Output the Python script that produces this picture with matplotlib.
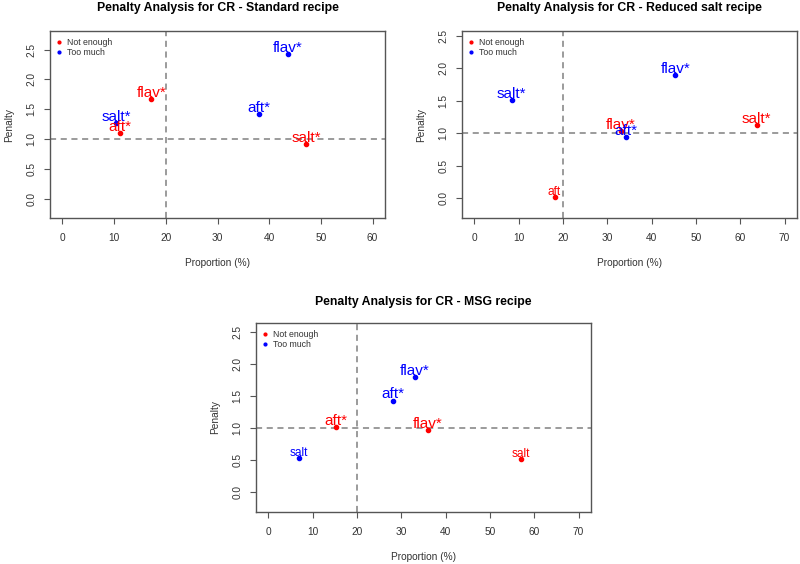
import matplotlib
matplotlib.use("Agg")
import matplotlib.pyplot as plt

plt.rcParams['font.family'] = ['Liberation Sans', 'DejaVu Sans']

# ---------------- data ----------------
std_labels = ["salt*", "aft*", "flav*", "salt*", "aft*", "flav*"]
std_x = [47.2, 11.1, 17.2, 10.4, 38.0, 43.6]
std_y = [0.92, 1.10, 1.67, 1.27, 1.42, 2.42]
std_side = ["Not enough", "Not enough", "Not enough", "Too much", "Too much", "Too much"]

red_labels = ["salt*", "aft", "flav*", "salt*", "aft*", "flav*"]
red_x = [63.7, 18.1, 33.0, 8.4, 34.2, 45.3]
red_y = [1.12, 0.02, 1.03, 1.51, 0.94, 1.89]
red_side = ["Not enough", "Not enough", "Not enough", "Too much", "Too much", "Too much"]

msg_labels = ["salt", "aft*", "flav*", "salt", "aft*", "flav*"]
msg_x = [56.9, 15.2, 36.0, 6.8, 28.2, 33.1]
msg_y = [0.51, 1.01, 0.97, 0.53, 1.43, 1.80]
msg_side = ["Not enough", "Not enough", "Not enough", "Too much", "Too much", "Too much"]

titles = ["Penalty Analysis for CR - Standard recipe",
          "Penalty Analysis for CR - Reduced salt recipe",
          "Penalty Analysis for CR - MSG recipe"]
legend_labels = ["Not enough", "Too much"]
side_colors = {"Not enough": "red", "Too much": "blue"}

W, H = 800, 564
fig = plt.figure(figsize=(W / 100, H / 100), dpi=100)


def px_axes(x0, y0, x1, y1):
    return fig.add_axes([x0 / W, 1 - y1 / H, (x1 - x0) / W, (y1 - y0) / H])


text_col = "#333333"


def panel(ax, title, labels, xs, ys, sides, xmax, xlim, ylim, tpad):
    for s in legend_labels:
        for lab, x, y, sd in zip(labels, xs, ys, sides):
            if sd != s:
                continue
            c = side_colors[sd]
            ax.plot([x], [y], 'o', color=c, markersize=3, zorder=3)
            big = lab.endswith("*")
            ax.annotate(lab, (x, y), xytext=(0, 1.5), textcoords='offset points',
                        ha='center', va='baseline', color=c,
                        fontsize=11 if big else 8.6, zorder=4)
    ax.axvline(20, color="#808080", ls=(0, (4, 3)), lw=1.1, zorder=1)
    ax.axhline(1, color="#808080", ls=(0, (4, 3)), lw=1.1, zorder=1)
    ax.set_xlim(*xlim)
    ax.set_ylim(*ylim)
    ax.set_xticks(range(0, xmax + 1, 10))
    ax.set_yticks([0, 0.5, 1.0, 1.5, 2.0, 2.5])
    ax.set_yticklabels(["0.0", "0.5", "1.0", "1.5", "2.0", "2.5"], rotation=90, va='center')
    ax.tick_params(colors="#555555", labelcolor=text_col, labelsize=7.3, length=4.3, width=0.8)
    ax.tick_params(axis='x', pad=6.5)
    ax.tick_params(axis='y', pad=5.5)
    for sp in ax.spines.values():
        sp.set_color("#555555")
        sp.set_linewidth(1.0)
    ax.set_xlabel("Proportion (%)", fontsize=7.3, color=text_col, labelpad=11)
    ax.set_ylabel("Penalty", fontsize=7.3, color=text_col, labelpad=9)
    ax.set_title(title, fontsize=8.8, fontweight='bold', pad=tpad)
    # legend
    hs = [ax.plot([], [], 'o', color=side_colors[s], markersize=2)[0] for s in legend_labels]
    leg = ax.legend(hs, legend_labels, loc='upper left', frameon=False, fontsize=6.3,
                    handlelength=0.5, handletextpad=0.6, labelspacing=0.15,
                    borderaxespad=0.5, borderpad=0.3)
    for t in leg.get_texts():
        t.set_color(text_col)


ax1 = px_axes(50, 31, 385, 218)
panel(ax1, titles[0], std_labels, std_x, std_y, std_side, 60, (-2.4, 62.4), (-0.32, 2.81), 14.5)
ax2 = px_axes(462, 31, 797, 218)
panel(ax2, titles[1], red_labels, red_x, red_y, red_side, 70, (-2.8, 72.8), (-0.30, 2.57), 14.5)
ax3 = px_axes(256, 323, 591, 512)
panel(ax3, titles[2], msg_labels, msg_x, msg_y, msg_side, 70, (-2.8, 72.8), (-0.31, 2.64), 13)

fig.savefig("out.png", dpi=100)
